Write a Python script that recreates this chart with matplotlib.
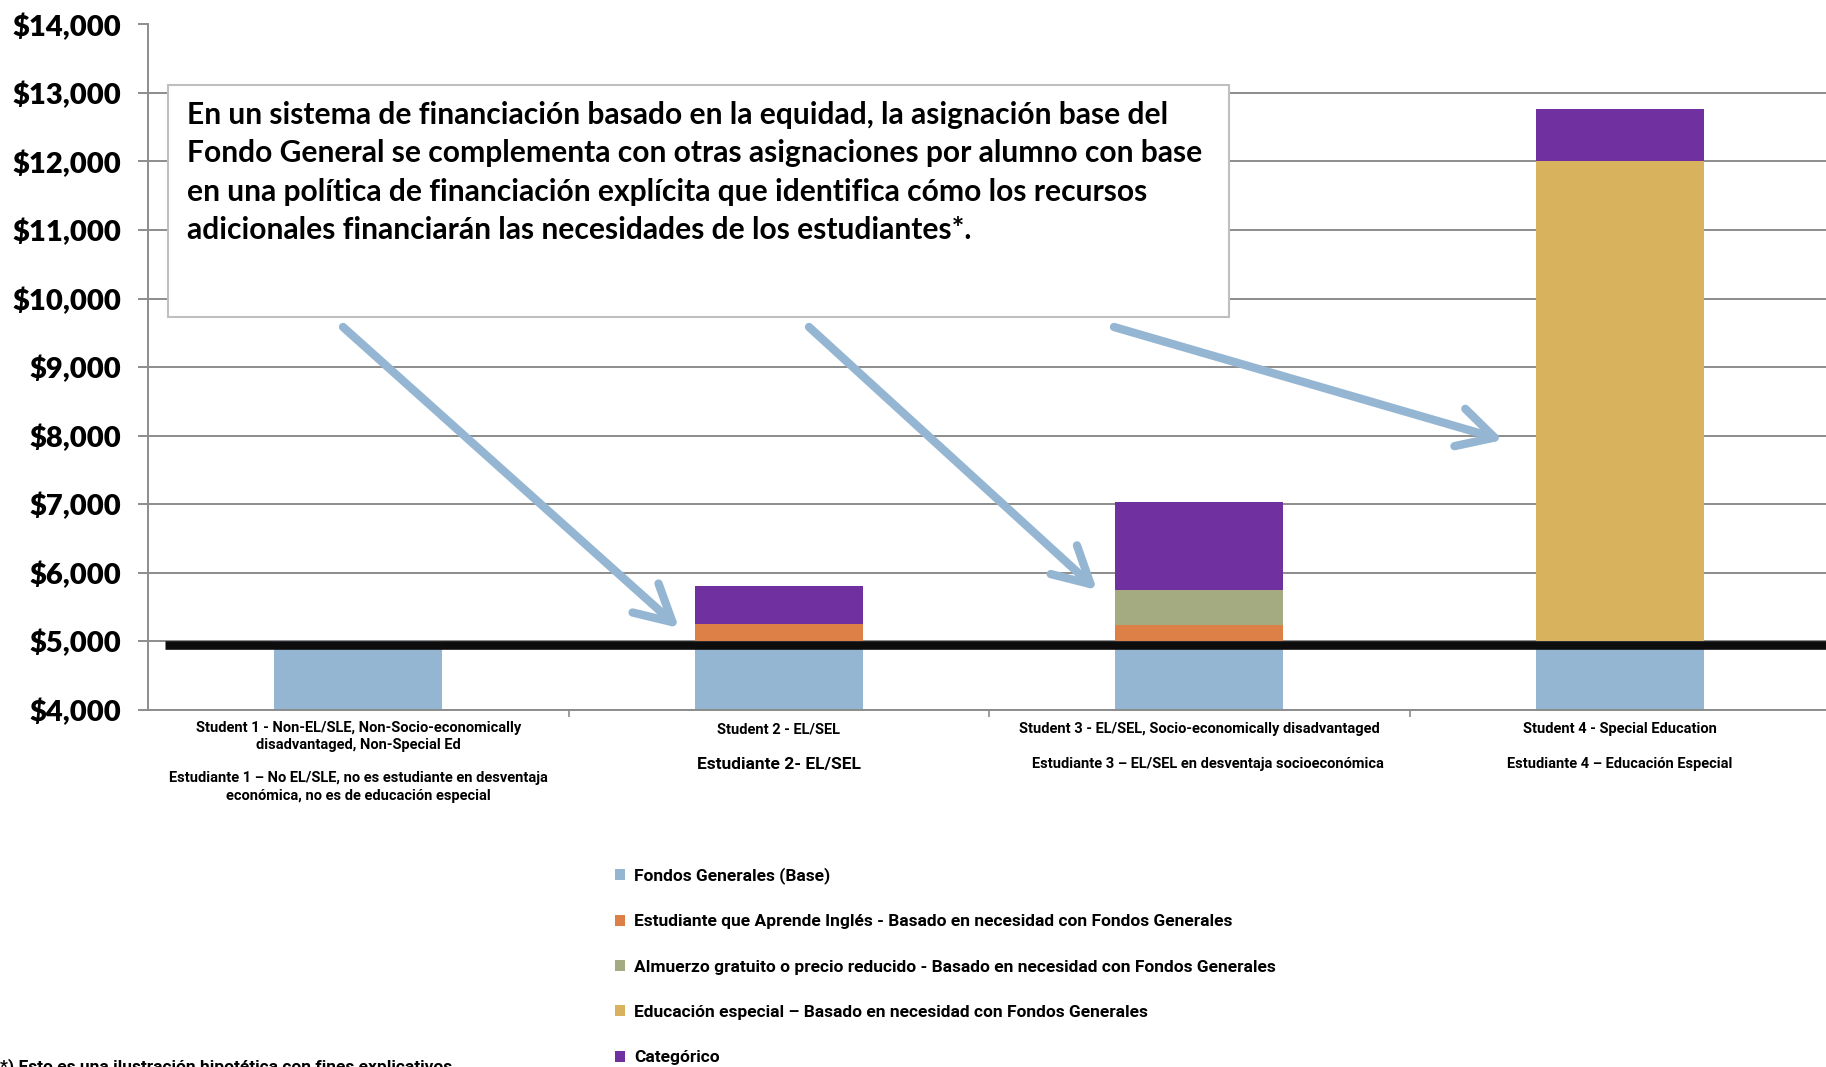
import matplotlib
matplotlib.use("Agg")
import matplotlib.pyplot as plt
import numpy as np
from matplotlib.patches import Rectangle
from matplotlib.ticker import FuncFormatter, FixedLocator

# ---------------- data ----------------
students = ["Student 1", "Student 2", "Student 3", "Student 4"]
label_en = ["Student 1 - Non-EL/SLE, Non-Socio-economically\ndisadvantaged, Non-Special Ed",
            "Student 2 - EL/SEL",
            "Student 3 - EL/SEL, Socio-economically disadvantaged",
            "Student 4 - Special Education"]
label_es = ["Estudiante 1 \u2013 No EL/SLE, no es estudiante en desventaja\necon\u00f3mica, no es de educaci\u00f3n especial",
            "Estudiante 2- EL/SEL",
            "Estudiante 3 \u2013 EL/SEL en desventaja socioecon\u00f3mica",
            "Estudiante 4 \u2013 Educaci\u00f3n Especial"]

series_names = ["Fondos Generales (Base)",
                "Estudiante que Aprende Ingl\u00e9s - Basado en necesidad con Fondos Generales",
                "Almuerzo gratuito o precio reducido - Basado en necesidad con Fondos Generales",
                "Educaci\u00f3n especial \u2013 Basado en necesidad con Fondos Generales",
                "Categ\u00f3rico"]
base_general = [5000, 5000, 5000, 5000]
english_learner = [0, 250, 235, 0]
free_lunch = [0, 0, 510, 0]
special_ed = [0, 0, 0, 7000]
categorical = [0, 550, 1285, 770]
baseline_value = 4940

y_ticks = [4000, 5000, 6000, 7000, 8000, 9000, 10000, 11000, 12000, 13000, 14000]

box_text = ("En un sistema de financiaci\u00f3n basado en la equidad, la asignaci\u00f3n base del\n"
            "Fondo General se complementa con otras asignaciones por alumno con base\n"
            "en una pol\u00edtica de financiaci\u00f3n expl\u00edcita que identifica c\u00f3mo los recursos\n"
            "adicionales financiar\u00e1n las necesidades de los estudiantes*.")
footnote = "*) Esto es una ilustraci\u00f3n hipot\u00e9tica con fines explicativos"

colors = ["#95B6D2", "#DD8047", "#A5AB81", "#D8B25C", "#7030A0"]

# ---------------- figure ----------------
W, H = 1826, 1067
fig = plt.figure(figsize=(W / 100, H / 100), dpi=100)
ax = fig.add_axes([148 / W, 1 - 709.5 / H, (1830 - 148) / W, (709.5 - 24.5) / H])

cond = ["Liberation Sans Narrow", "Roboto", "DejaVu Sans"]
boxfont = ["Lato", "Open Sans", "DejaVu Sans"]

x = np.arange(len(students))
series = [base_general, english_learner, free_lunch, special_ed, categorical]
bottom = np.zeros(len(students))
handles = []
for vals, c, name in zip(series, colors, series_names):
    vals = np.array(vals, dtype=float)
    b = ax.bar(x, vals, 0.4, bottom=bottom, color=c, label=name, zorder=2)
    handles.append(b)
    bottom += vals

ax.axhline(baseline_value, xmin=0.01, xmax=1, color="#0D0D0D", lw=6.2, zorder=3,
           solid_capstyle="butt")

ax.set_xlim(-0.5, 3.5)
ax.set_ylim(4000, 14000)
ax.yaxis.set_major_locator(FixedLocator(y_ticks))
ax.yaxis.set_major_formatter(FuncFormatter(lambda v, p: "${:,.0f}".format(v)))
ax.grid(axis="y", color="#8C8C8C", lw=1.4, zorder=0)
ax.set_axisbelow(True)
for s in ["top", "right"]:
    ax.spines[s].set_visible(False)
for s in ["left", "bottom"]:
    ax.spines[s].set_color("#8C8C8C")
    ax.spines[s].set_linewidth(1.4)
ax.tick_params(axis="y", length=7, width=1.4, color="#8C8C8C", pad=12)
for t in ax.get_yticklabels():
    t.set_fontfamily(boxfont)
    t.set_fontweight("heavy")
    t.set_fontsize(21)
ax.set_xticks([])
ax.set_xticks([0.5, 1.5, 2.5], minor=True)
ax.tick_params(axis="x", which="minor", length=5, width=1.2, color="#8C8C8C")

# category labels
trans = ax.get_xaxis_transform()
def ypix(p):
    # p: pixels from top of figure -> axes fraction of the x-axis transform
    return (H - p - (H - 709.5)) / (709.5 - 24.5)

en_y = [721, 729, 729, 729]
es_y = [771, 764, 764, 764]
es_va = ["top", "center", "center", "center"]
en_va = ["top", "center", "center", "center"]
es_size = [10.5, 12.5, 10.5, 10.5]
for i in range(len(students)):
    ax.text(x[i], ypix(en_y[i]), label_en[i], transform=trans, ha="center", va=en_va[i],
            fontsize=10.5, fontweight="bold", family=cond, linespacing=1.25)
    ax.text(x[i] + (0.02 if i == 2 else 0), ypix(es_y[i]), label_es[i], transform=trans,
            ha="center", va=es_va[i],
            fontsize=es_size[i], fontweight="bold", family=cond, linespacing=1.35)

# text box
fig.patches.append(Rectangle((168 / W, 1 - 317 / H), (1229 - 168) / W, (317 - 85) / H,
                             transform=fig.transFigure, facecolor="white",
                             edgecolor="#BFBFBF", lw=1.5, zorder=5))
fig.text(187 / W, 1 - 101 / H, box_text, ha="left", va="top", fontsize=21.6,
         fontweight="bold", family=boxfont, linespacing=1.45, zorder=6)

# arrows (figure pixel coords, origin top-left converted)
arrows = [((343, 327), (679, 628)), ((809, 327), (1097, 590)), ((1114, 327), (1503, 440))]
for (x0, y0), (x1, y1) in arrows:
    ax.annotate("", xy=(x1, H - y1), xycoords="figure pixels",
                xytext=(x0, H - y0), textcoords="figure pixels",
                arrowprops=dict(arrowstyle="->,head_length=1.3,head_width=0.7",
                                color="#95B6D2", lw=6, mutation_scale=20,
                                shrinkA=0, shrinkB=0, capstyle="round", joinstyle="round"),
                zorder=7)

# legend
leg = fig.legend(handles=handles, labels=series_names, loc="upper left",
                 bbox_to_anchor=(615 / W, 1 - 867 / H), frameon=False,
                 prop=dict(family=cond, weight="bold", size=12.5),
                 handlelength=0.6, handleheight=0.6, handletextpad=0.5,
                 labelspacing=1.75, borderaxespad=0, borderpad=0)

fig.text(0, 1 - 1058 / H, footnote, ha="left", va="top", fontsize=12.5,
         fontweight="bold", family=cond)

fig.savefig("out.png", dpi=100)
